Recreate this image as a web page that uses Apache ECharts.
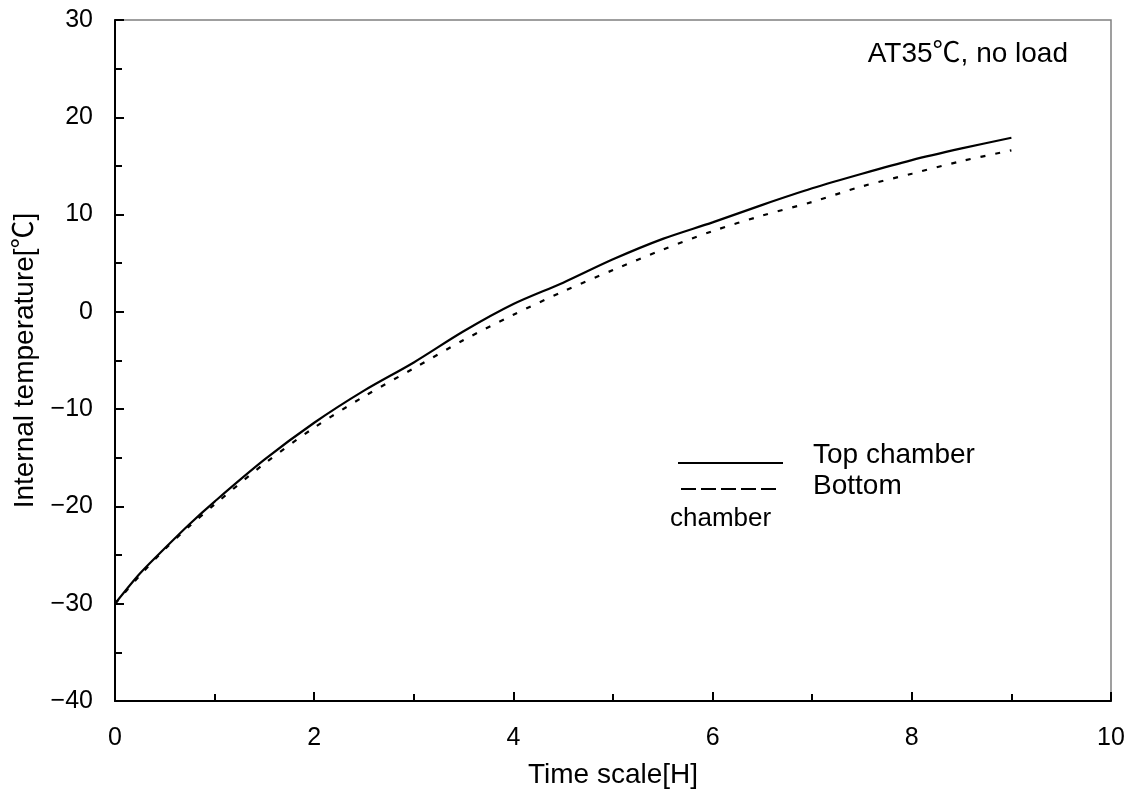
<!DOCTYPE html>
<html>
<head>
<meta charset="utf-8">
<title>Internal temperature</title>
<script src="https://cdn.jsdelivr.net/npm/echarts@6/dist/echarts.min.js"></script>
<style>
  html, body { margin: 0; padding: 0; background: #ffffff; }
  #chart { width: 1133px; height: 803px; }
</style>
</head>
<body>
<div id="chart"></div>
<script>
// Elapsed time [h]
const hours = [0, 0.25, 0.5, 0.75, 1, 1.5, 2, 2.5, 3, 3.5, 4, 4.5, 5, 5.5, 6, 6.5, 7, 7.5, 8, 8.5, 9];
// Top chamber temperature [°C]
const topChamber = [-30, -26.9, -24.3, -21.8, -19.5, -15.2, -11.4, -8.1, -5.2, -2.0, 0.8, 3.0, 5.4, 7.5, 9.2, 11.0, 12.7, 14.2, 15.6, 16.8, 17.9];
// Bottom chamber temperature [°C]
const bottomChamber = [-30, -27.1, -24.4, -22.0, -19.8, -15.6, -11.9, -8.7, -5.8, -2.9, -0.3, 2.1, 4.3, 6.4, 8.3, 9.9, 11.3, 12.9, 14.2, 15.5, 16.6];

const seriesNames = ['Top chamber', 'Bottom'];
const xTitle = 'Time scale[H]';
const yTitle = 'Internal temperature[℃]';
const note = 'AT35℃, no load';

const FONT = '"Liberation Sans", Arial, "Noto Sans CJK JP", sans-serif';
const TICK_FS = 25;
const TEXT_FS = 28;

const pairs = (xs, ys) => xs.map((x, i) => [x, ys[i]]);

const chart = echarts.init(document.getElementById('chart'), null, { renderer: 'canvas' });

const axisCommon = {
  axisLine: { onZero: false, lineStyle: { color: '#000', width: 2 } },
  axisTick: { inside: true, length: 9, lineStyle: { color: '#000', width: 2 } },
  minorTick: { show: true, splitNumber: 2, length: 7, lineStyle: { color: '#000', width: 2 } },
  splitLine: { show: false },
  axisLabel: { color: '#000', fontSize: TICK_FS, fontFamily: FONT },
  nameTextStyle: { color: '#000', fontSize: TEXT_FS, fontFamily: FONT }
};

const textStyle = (text, size, align, vAlign) => ({
  text: text, fill: '#000', font: size + 'px ' + FONT,
  align: align, verticalAlign: vAlign
});

chart.setOption({
  backgroundColor: '#ffffff',
  animation: false,
  grid: {
    left: 115, top: 20, right: 22, bottom: 102,
    show: true, borderColor: '#808080', borderWidth: 1.5, backgroundColor: 'transparent'
  },
  xAxis: Object.assign({}, axisCommon, {
    type: 'value', min: 0, max: 10, interval: 2,
    name: xTitle, nameLocation: 'middle', nameGap: 60,
    axisLabel: Object.assign({}, axisCommon.axisLabel, { margin: 25 })
  }),
  yAxis: Object.assign({}, axisCommon, {
    type: 'value', min: -40, max: 30, interval: 10,
    name: yTitle, nameLocation: 'middle', nameGap: 76, nameRotate: 90,
    axisLabel: Object.assign({}, axisCommon.axisLabel, {
      margin: 22,
      formatter: v => (v < 0 ? '−' + Math.abs(v) : String(v))
    })
  }),
  series: [
    {
      name: seriesNames[0], type: 'line', data: pairs(hours, topChamber),
      showSymbol: false, smooth: 0.3,
      lineStyle: { color: '#000', width: 2.2, type: 'solid' }
    },
    {
      name: seriesNames[1], type: 'line', data: pairs(hours, bottomChamber),
      showSymbol: false, smooth: 0.3,
      lineStyle: { color: '#000', width: 2.2, type: [5, 10] }
    }
  ],
  graphic: [
    { type: 'text', x: 1068, y: 54, style: textStyle(note, TEXT_FS, 'right', 'middle') },
    // key
    { type: 'line', shape: { x1: 678, y1: 463, x2: 783, y2: 463 },
      style: { stroke: '#000', lineWidth: 2 } },
    { type: 'line', shape: { x1: 681, y1: 489, x2: 781, y2: 489 },
      style: { stroke: '#000', lineWidth: 2, lineDash: [15, 5] } },
    { type: 'text', x: 813, y: 455, style: textStyle(seriesNames[0], TEXT_FS, 'left', 'middle') },
    { type: 'text', x: 813, y: 486, style: textStyle(seriesNames[1], TEXT_FS, 'left', 'middle') },
    { type: 'text', x: 670, y: 519, style: textStyle('chamber', 26, 'left', 'middle') }
  ]
});
</script>
</body>
</html>
